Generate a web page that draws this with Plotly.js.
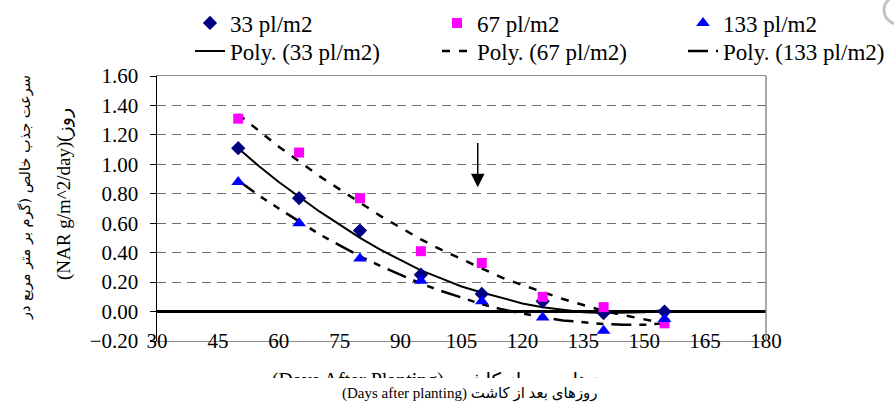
<!DOCTYPE html>
<html>
<head>
<meta charset="utf-8">
<script src="https://cdn.plot.ly/plotly-3.0.1.min.js"></script>
<style>html,body{margin:0;padding:0;background:#fff;}#chart{width:894px;height:407px;}</style>
</head>
<body>
<div id="chart"></div>
<script>
// Observed data (days after planting vs NAR)
const days = [50, 65, 80, 95, 110, 125, 140, 155];
const nar33 = [1.11, 0.77, 0.55, 0.25, 0.12, 0.07, -0.01, 0.00];
const nar67 = [1.31, 1.08, 0.77, 0.41, 0.33, 0.10, 0.03, -0.08];
const nar133 = [0.88, 0.60, 0.36, 0.21, 0.07, -0.04, -0.13, -0.05];

// Polynomial trend lines
const trendDays = [50, 55, 60, 65, 70, 75, 80, 85, 90, 95, 100, 105, 110, 115, 120, 125, 130, 135, 140, 145, 150, 155];
const poly33 = [1.11, 0.99, 0.88, 0.78, 0.68, 0.59, 0.50, 0.42, 0.35, 0.28, 0.225, 0.17, 0.13, 0.09, 0.055, 0.03, 0.01, -0.005, -0.01, -0.01, -0.005, 0.01];
const poly67 = [1.34, 1.23, 1.12, 1.02, 0.92, 0.83, 0.74, 0.65, 0.57, 0.49, 0.42, 0.355, 0.29, 0.23, 0.18, 0.13, 0.085, 0.045, 0.005, -0.025, -0.055, -0.08];
const poly133 = [0.89, 0.79, 0.70, 0.61, 0.525, 0.45, 0.375, 0.31, 0.25, 0.19, 0.14, 0.095, 0.05, 0.015, -0.015, -0.04, -0.06, -0.075, -0.085, -0.09, -0.09, -0.08];

const seriesNames = ['33 pl/m2', '67 pl/m2', '133 pl/m2'];
const trendNames = ['Poly. (33 pl/m2)', 'Poly. (67 pl/m2)', 'Poly. (133 pl/m2)'];
const xTicks = [30, 45, 60, 75, 90, 105, 120, 135, 150, 165, 180];
const yTicks = [-0.2, 0, 0.2, 0.4, 0.6, 0.8, 1.0, 1.2, 1.4, 1.6];

const yTitleFa = 'سرعت جذب خالص (گرم بر متر مربع در';
const yTitleEn = '(NAR g/m^2/day)(روز';
const xTitleHidden = '(Days After Planting) روزهای بعد از کاشت';
const xTitle = '(Days after planting) روزهای بعد از کاشت';

const serif = 'Liberation Serif, DejaVu Sans, serif';

const traces = [
  {x: trendDays, y: poly33, mode: 'lines', name: trendNames[0], legend: 'legend4',
   line: {color: '#000', width: 2}},
  {x: trendDays, y: poly67, mode: 'lines', name: trendNames[1], legend: 'legend5',
   line: {color: '#000', width: 2.5, dash: '8px,9px'}},
  {x: trendDays, y: poly133, mode: 'lines', name: trendNames[2], legend: 'legend6',
   line: {color: '#000', width: 2.5, dash: '20px,8px,7px,8px,7px,8px'}},
  {x: days, y: nar33, mode: 'markers', name: seriesNames[0], legend: 'legend',
   marker: {symbol: 'diamond', size: 11, color: '#000080'}},
  {x: days, y: nar67, mode: 'markers', name: seriesNames[1], legend: 'legend2',
   marker: {symbol: 'square', size: 10, color: '#FF00FF'}},
  {x: days, y: nar133, mode: 'markers', name: seriesNames[2], legend: 'legend3',
   marker: {symbol: 'triangle-up', size: 12, color: '#0000FF'}}
];

const L = 157, R = 128, T = 76, B = 66, W = 894, H = 407;
const pw = W - L - R, ph = H - T - B;
const px2x = p => (p - L) / pw;
const py2y = p => (H - B - p) / ph;

function leg(xpx, ypx) {
  return {x: px2x(xpx), y: py2y(ypx), xanchor: 'left', yanchor: 'middle',
          bgcolor: 'rgba(0,0,0,0)', borderwidth: 0,
          font: {family: serif, size: 23, color: '#000'}};
}

const layout = {
  width: W, height: H,
  margin: {l: L, r: R, t: T, b: B, autoexpand: false},
  paper_bgcolor: '#fff', plot_bgcolor: '#fff',
  font: {family: serif, size: 21, color: '#000'},
  showlegend: true,
  legend: leg(190, 23),
  legend2: leg(437, 23),
  legend3: leg(683, 23),
  legend4: leg(190, 51),
  legend5: leg(437, 51),
  legend6: leg(683, 51),
  xaxis: {
    range: [30, 180], tickvals: xTicks, ticktext: xTicks.map(String),
    showgrid: false, zeroline: false,
    showline: true, linecolor: '#8c8c8c', linewidth: 1, mirror: true,
    ticks: '', ticklabelstandoff: -19,
    tickfont: {family: serif, size: 21, color: '#000'}
  },
  xaxis2: {
    overlaying: 'x', anchor: 'free', position: 0.2 / 1.8,
    range: [30, 180], tickvals: xTicks, showticklabels: false,
    showgrid: false, zeroline: false,
    showline: true, linecolor: '#000', linewidth: 3,
    ticks: 'outside', ticklen: 7, tickwidth: 3, tickcolor: '#000'
  },
  yaxis: {
    range: [-0.2, 1.6], tickvals: yTicks, tickformat: '.2f',
    showgrid: true, gridcolor: '#6e6e6e', gridwidth: 1, griddash: '9px,6px',
    zeroline: true, zerolinecolor: '#000', zerolinewidth: 3,
    showline: true, linecolor: '#000', linewidth: 1.5,
    ticks: 'outside', ticklen: 6, tickcolor: '#000', tickwidth: 1,
    ticklabelstandoff: 7,
    tickfont: {family: serif, size: 21, color: '#000'}
  },
  shapes: [
    {type: 'line', xref: 'paper', yref: 'paper', x0: 1, x1: 1, y0: 0, y1: 1,
     line: {color: '#8c8c8c', width: 1.5}},
    {type: 'circle', xref: 'paper', yref: 'paper',
     x0: px2x(884), x1: px2x(912), y0: py2y(24), y1: py2y(-4),
     line: {color: '#c4c4c4', width: 3}}
  ],
  annotations: [
    {xref: 'x', yref: 'y', axref: 'x', ayref: 'y', x: 109, y: 0.845, ax: 109, ay: 1.155,
     text: '', showarrow: true, arrowhead: 2, arrowsize: 1.8, arrowwidth: 1.5, arrowcolor: '#000'},
    {xref: 'paper', yref: 'paper', x: px2x(25), y: py2y(198), xanchor: 'center', yanchor: 'middle',
     text: yTitleFa, textangle: -90,
     showarrow: false, font: {family: 'DejaVu Sans, sans-serif', size: 14.5, color: '#000'}},
    {xref: 'paper', yref: 'paper', x: px2x(64), y: py2y(194), xanchor: 'center', yanchor: 'middle',
     text: yTitleEn, textangle: -90,
     showarrow: false, font: {family: serif, size: 19, color: '#000'}},
    // first x title line, cut off so only the tops of the letters show (as in the reference)
    {xref: 'paper', yref: 'paper', x: px2x(445), y: py2y(373), xanchor: 'center', yanchor: 'middle',
     text: xTitleHidden, height: 9, width: 420, valign: 'top', borderpad: 0,
     showarrow: false, font: {family: serif, size: 20, color: '#000'}},
    {xref: 'paper', yref: 'paper', x: px2x(470), y: py2y(393), xanchor: 'center', yanchor: 'middle',
     text: xTitle,
     showarrow: false,
     font: {family: serif, size: 15, color: '#000'}}
  ]
};

Plotly.newPlot('chart', traces, layout, {displayModeBar: false, staticPlot: true});
</script>
</body>
</html>
